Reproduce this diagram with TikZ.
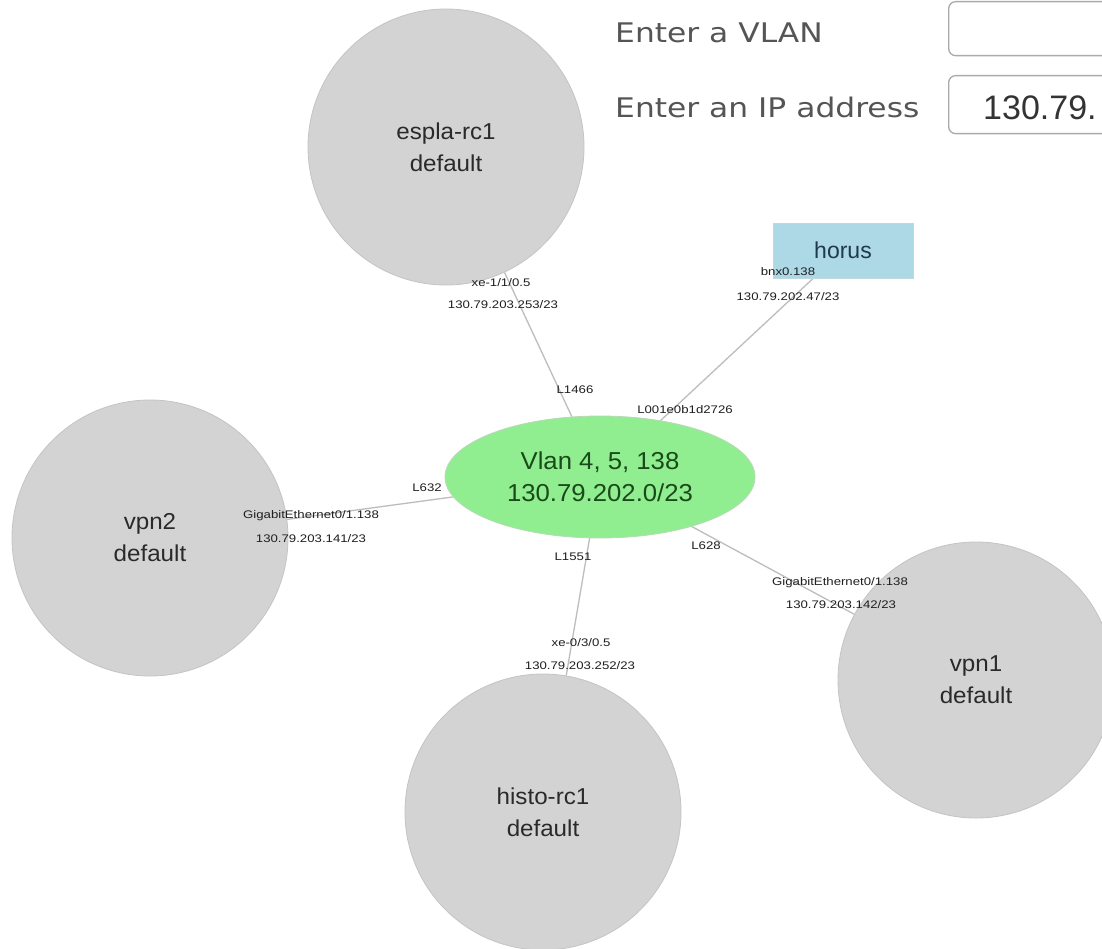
\documentclass[tikz,border=0pt]{standalone}
\usepackage{fontspec}
\setmainfont{Liberation Sans}
\newfontfamily\lblfont[FakeStretch=1.2]{Liberation Sans}
\newfontfamily\nodefont[FakeStretch=1.05]{Liberation Sans}
\newfontfamily\uifont[FakeStretch=1.16]{DejaVu Sans}
\usetikzlibrary{shapes.geometric}
\definecolor{circfill}{HTML}{D3D3D3}
\definecolor{circline}{HTML}{C4C4C4}
\definecolor{nodetext}{HTML}{2A2A2A}
\definecolor{vlanfill}{HTML}{90EE90}
\definecolor{vlanline}{HTML}{B8D8B8}
\definecolor{vlantext}{HTML}{1A4A1A}
\definecolor{hostfill}{HTML}{ADD8E6}
\definecolor{hostline}{HTML}{C0D8E0}
\definecolor{hosttext}{HTML}{1F3A48}
\definecolor{edgecol}{HTML}{BDBDBD}
\definecolor{uigray}{HTML}{555555}
\definecolor{boxline}{HTML}{AAAAAA}
\definecolor{ipcol}{HTML}{333333}
\pgfdeclarelayer{bgwhite}
\pgfdeclarelayer{edges}
\pgfsetlayers{bgwhite,edges,main}
\begin{document}
\begin{tikzpicture}[x=1pt,y=-1pt,
  router/.style={circle, fill=circfill, draw=circline, line width=0.8pt,
    minimum size=276pt, inner sep=0pt, align=center, text=nodetext,
    font=\nodefont\fontsize{23}{32}\selectfont},
  vlannode/.style={ellipse, fill=vlanfill, draw=vlanline, line width=0.8pt,
    minimum width=310pt, minimum height=122pt, inner sep=0pt, align=center,
    text=vlantext, font=\nodefont\fontsize{24.5}{32}\selectfont},
  hostbox/.style={rectangle, fill=hostfill, draw=hostline, line width=0.6pt,
    minimum width=140pt, minimum height=55pt, inner sep=0pt, text=hosttext,
    font=\fontsize{23}{28}\selectfont},
  edge/.style={draw=edgecol, line width=1.3pt},
  elabel/.style={inner sep=0pt, text height=7.9pt, text depth=0pt,
    font=\lblfont\fontsize{11}{13}\selectfont, text=black!88},
  uilabel/.style={anchor=base west, inner sep=0pt, text=uigray,
    font=\uifont\fontsize{27}{32}\selectfont},
  inputbox/.style={draw=boxline, line width=1.3pt, rounded corners=7pt,
    fill=white, anchor=north west, inner sep=0pt}
]
\path[use as bounding box] (0,0) rectangle (1102,949);
\begin{pgfonlayer}{bgwhite}
  \fill[white] (0,0) rectangle (1102,949);
\end{pgfonlayer}

% form area
\node[uilabel] (vlanprompt) at (615,43) {Enter a VLAN};
\node[uilabel] (ipprompt) at (615,118) {Enter an IP address};
\node[inputbox, minimum width=180pt, minimum height=54pt] (vlanfield) at (948,1) {};
\node[inputbox, minimum width=180pt, minimum height=58pt] (ipfield) at (948,75) {};
\node[anchor=base west, inner sep=0pt, text=ipcol,
  font=\fontsize{34}{40}\selectfont] (ipvalue) at (983,120) {130.79.};

% nodes
\node[router] (espla) at (446,147) {espla-rc1\\default};
\node[router] (vpn2) at (150,538) {vpn2\\default};
\node[router] (vpn1) at (976,680) {vpn1\\default};
\node[router] (histo) at (543,812) {histo-rc1\\default};
\node[vlannode] (vlan) at (600,477) {Vlan 4, 5, 138\\130.79.202.0/23};
\node[hostbox] (horus) at (843,250.5) {horus};

% edges
\begin{pgfonlayer}{edges}
  \draw[edge] (espla) -- (vlan);
  \draw[edge] (horus) -- (vlan);
  \draw[edge] (vpn2) -- (vlan);
  \draw[edge] (histo) -- (vlan);
  \draw[edge] (vpn1) -- (vlan);
\end{pgfonlayer}

% edge labels
\node[elabel] (esplaif) at (501,283) {xe-1/1/0.5};
\node[elabel] (esplaip) at (503,305) {130.79.203.253/23};
\node[elabel] (esplalink) at (575,390) {L1466};

\node[elabel] (horusif) at (788,272) {bnx0.138};
\node[elabel] (horusip) at (788,297) {130.79.202.47/23};
\node[elabel] (horuslink) at (685,410) {L001e0b1d2726};

\node[elabel] (vpn2link) at (427,488) {L632};
\node[elabel] (vpn2if) at (311,515) {GigabitEthernet0/1.138};
\node[elabel] (vpn2ip) at (311,539) {130.79.203.141/23};

\node[elabel] (histolink) at (573,557) {L1551};
\node[elabel] (histoif) at (581,643) {xe-0/3/0.5};
\node[elabel] (histoip) at (580,666) {130.79.203.252/23};

\node[elabel] (vpn1link) at (706,546) {L628};
\node[elabel] (vpn1if) at (840,582) {GigabitEthernet0/1.138};
\node[elabel] (vpn1ip) at (841,605) {130.79.203.142/23};
\end{tikzpicture}
\end{document}
